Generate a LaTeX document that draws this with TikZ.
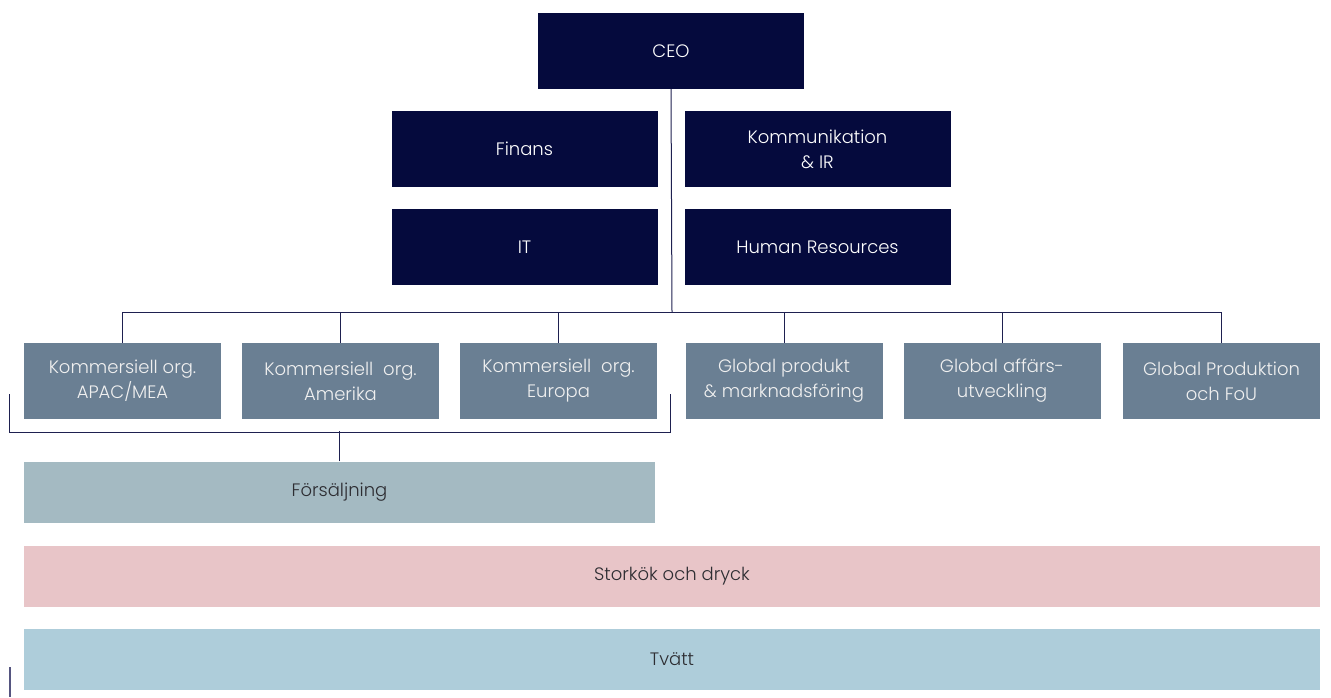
\documentclass[tikz,border=0pt]{standalone}
\usepackage{fontspec}
\setmainfont{Poppins}[UprightFont = * Light]
\usepackage{tikz}
\usetikzlibrary{positioning}
\definecolor{navyColor}{RGB}{5,10,61}
\definecolor{lineColor}{RGB}{30,32,80}
\definecolor{stubColor}{RGB}{85,85,128}
\definecolor{unitColor}{RGB}{106,127,147}
\definecolor{salesColor}{RGB}{164,186,194}
\definecolor{kitchenColor}{RGB}{232,197,200}
\definecolor{laundryColor}{RGB}{174,205,218}
\definecolor{darkText}{RGB}{45,45,50}
\tikzstyle{chart} = [x = 1pt, y = -1pt]
\tikzstyle{orgBox} = [rectangle, inner sep = 0pt, align = center, font = \fontsize{18}{25}\selectfont]
\tikzstyle{topBox} = [orgBox, fill=navyColor, text=white, minimum width = 266pt, minimum height = 76pt]
\tikzstyle{unitBox} = [orgBox, fill=unitColor, text=white!94!black, minimum width = 197pt, minimum height = 76pt]
\tikzstyle{areaBox} = [orgBox, text=darkText, minimum height = 61pt]
\tikzstyle{orgLine} = [color=lineColor, line width = 1pt]
\newcommand{\unitDrop}[1]{\draw [orgLine] (#1.north) -- (#1.north |- busLine);}

\begin{document}
\begin{tikzpicture}[chart]
  \useasboundingbox (0,0) rectangle (1331,697);
  % top management
  \node [topBox] (ceo) at (671,51) {CEO};
  \node [topBox] (finans) at (524.5,149) {Finans};
  \node [topBox] (kommunikation) at (817.5,149) {Kommunikation\\ \& IR};
  \node [topBox] (it) at (524.5,247) {IT};
  \node [topBox] (hr) at (817.5,247) {Human Resources};

  % units
  \node [unitBox] (apac) at (122.5,381) {Kommersiell org.\\APAC/MEA};
  \node [unitBox] (amerika) at (340.5,381) {Kommersiell \ org.\\Amerika};
  \node [unitBox] (europa) at (558.5,381) {Kommersiell \ org.\\Europa};
  \node [unitBox] (produkt) at (784,381) {Global produkt\\\& marknadsföring};
  \node [unitBox] (affars) at (1002,381) {Global affärs-\\utveckling};
  \node [unitBox] (produktion) at (1221.5,381) {Global Produktion\\och FoU};

  % business areas
  \node [areaBox, fill=salesColor, minimum width = 631pt] (forsaljning) at (339.5,492) {Försäljning};
  \node [areaBox, fill=kitchenColor, minimum width = 1296pt] (storkok) at (672,576) {Storkök och dryck};
  \node [areaBox, fill=laundryColor, minimum width = 1296pt] (tvatt) at (672,659.5) {Tvätt};

  % connectors
  \coordinate (busLine) at (672,312);
  \draw [orgLine] (ceo.south) -- (busLine);
  \draw [orgLine] (apac.north |- busLine) -- (produktion.north |- busLine);
  \foreach \unit in {apac,amerika,europa,produkt,affars,produktion} {
    \unitDrop{\unit}
  }
  \coordinate (bracketLeft) at (9.5,394);
  \coordinate (bracketRight) at (670,394);
  \draw [orgLine] (bracketLeft) -- ++(0,38) -| (bracketRight);
  \draw [orgLine] (forsaljning.north) -- ++(0,-30);
  \coordinate (stubTop) at (10,667);
  \draw [orgLine, color=stubColor, line width = 1.5pt] (stubTop) -- ++(0,30);
\end{tikzpicture}
\end{document}
